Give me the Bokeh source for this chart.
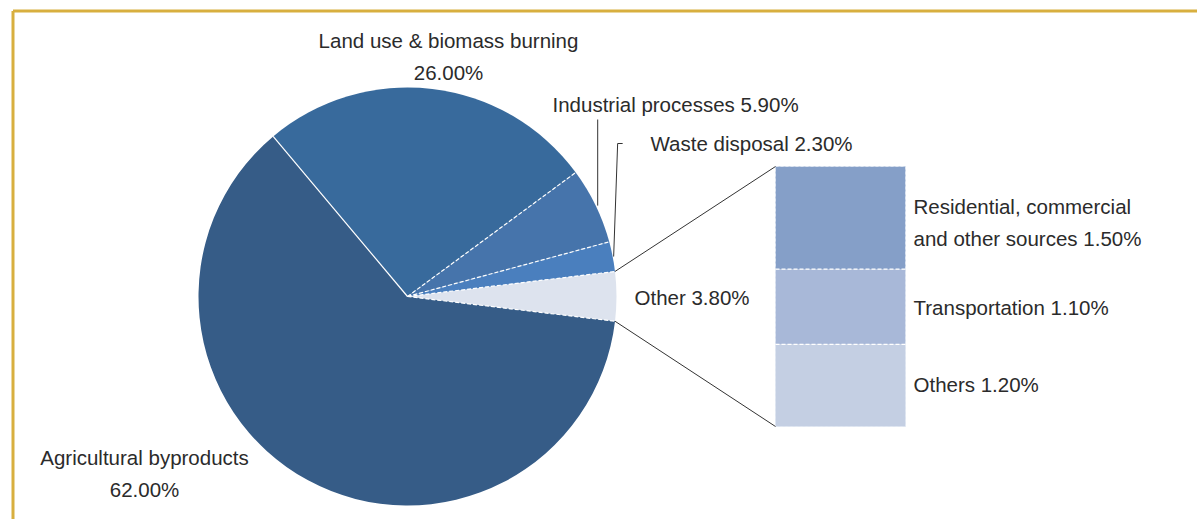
import math
from bokeh.plotting import figure
from bokeh.models import Range1d
from bokeh.core.properties import value
from bokeh.embed import file_html
from bokeh.resources import INLINE

# ---------------- data ----------------
categories = ["Other", "Waste disposal", "Industrial processes",
              "Land use & biomass burning", "Agricultural byproducts"]
values = [3.8, 2.3, 5.9, 26.0, 62.0]
slice_colors = ["#DDE3EE", "#4A7FBE", "#4674AB", "#386A9C", "#365C87"]

sub_categories = ["Residential, commercial and other sources", "Transportation", "Others"]
sub_values = [1.5, 1.1, 1.2]
sub_colors = ["#859FC8", "#A8B8D8", "#C4CFE3"]

# ---------------- layout (pixel coordinates, y down) ----------------
W, H = 1197, 519
def Y(y_img):
    return H - y_img

CX, CY, R = 407, 296, 209
START_DEG = -6.8

BOX_L, BOX_R, BOX_T, BOX_B = 775, 905, 166, 426

FONT = value("Liberation Sans")
FS = "20.5px"
TXT = "#2b2b2b"

p = figure(width=W, height=H, output_backend="svg", toolbar_location=None,
           x_range=Range1d(0, W), y_range=Range1d(0, H),
           x_axis_type=None, y_axis_type=None, min_border=0,
           background_fill_color="white", border_fill_color="white")
p.grid.visible = False
p.outline_line_color = None

# golden frame (top and left)
p.line(x=[12.5, W], y=[Y(10.5)] * 2, line_color="#D8AF3F", line_width=3)
p.line(x=[12.5, 12.5], y=[Y(10.5), 0], line_color="#D8AF3F", line_width=3)

# ---------------- pie ----------------
total = sum(values)
angles = []
a = START_DEG
for v in values:
    span = v / total * 360.0
    angles.append((a, a + span))
    a += span

p.wedge(x=[CX] * len(values), y=[Y(CY)] * len(values), radius=R,
        start_angle=[math.radians(s) for s, e in angles],
        end_angle=[math.radians(e) for s, e in angles],
        fill_color=slice_colors, line_color=None)

def edge(deg, r=R):
    return CX + r * math.cos(math.radians(deg)), CY - r * math.sin(math.radians(deg))

# slice boundaries (dashed white), land use / agricultural boundary solid
for i, (s, e) in enumerate(angles):
    ex, ey = edge(s)
    dash = "solid" if i == 4 else "4 2"
    p.line(x=[CX, ex], y=[Y(CY), Y(ey)], line_color="white", line_width=1.2,
           line_dash=dash)

# ---------------- breakdown box ----------------
sub_total = sum(sub_values)
scale = (BOX_B - BOX_T) / sub_total
tops, bots = [], []
cur = BOX_T
for v in sub_values:
    tops.append(cur)
    cur += v * scale
    bots.append(cur)

p.quad(left=[BOX_L] * 3, right=[BOX_R] * 3, top=[Y(t) for t in tops],
       bottom=[Y(b) for b in bots], fill_color=sub_colors, line_color=None)
p.quad(left=[BOX_L], right=[BOX_R], top=[Y(BOX_T)], bottom=[Y(BOX_B)],
       fill_color=None, line_color="#DDE4F0", line_dash="3 2", line_width=1)
for b in bots[:-1]:
    p.line(x=[BOX_L, BOX_R], y=[Y(b), Y(b)], line_color="white",
           line_width=1.2, line_dash="4 2")

# connectors from "Other" slice to box
o_s, o_e = angles[0]
x1, y1 = edge(o_e)
x2, y2 = edge(o_s)
p.line(x=[x1, BOX_L], y=[Y(y1), Y(BOX_T)], line_color="#333333", line_width=1)
p.line(x=[x2, BOX_L], y=[Y(y2), Y(BOX_B)], line_color="#333333", line_width=1)

# leader lines
ind_mid = (angles[2][0] + angles[2][1]) / 2
ix, iy = edge(ind_mid)
p.line(x=[ix + 2, ix + 2], y=[Y(iy), Y(119)], line_color="#333333", line_width=1)

w_mid = (angles[1][0] + angles[1][1]) / 2
wx, wy = edge(w_mid)
p.line(x=[wx + 1, wx + 5, wx + 10], y=[Y(wy), Y(143), Y(143)],
       line_color="#333333", line_width=1)

# ---------------- labels ----------------
def pct(v):
    return "%.2f%%" % v

def label(x, y, t, align="left"):
    p.text(x=[x], y=[Y(y)], text=[t], text_font=FONT, text_font_size=FS,
           text_color=TXT, text_align=align, text_baseline="middle")

label(448, 40, categories[3], "center")
label(448, 72, pct(values[3]), "center")
label(552, 104, "%s %s" % (categories[2], pct(values[2])))
label(650, 143, "%s %s" % (categories[1], pct(values[1])))
label(634, 297, "%s %s" % (categories[0], pct(values[0])))
label(144, 457, categories[4], "center")
label(144, 489, pct(values[4]), "center")

label(913, 206, "Residential, commercial")
label(913, 238, "and other sources %s" % pct(sub_values[0]))
label(913, 307, "%s %s" % (sub_categories[1], pct(sub_values[1])))
label(913, 384, "%s %s" % (sub_categories[2], pct(sub_values[2])))

open("out.html", "w").write(file_html(p, INLINE))
